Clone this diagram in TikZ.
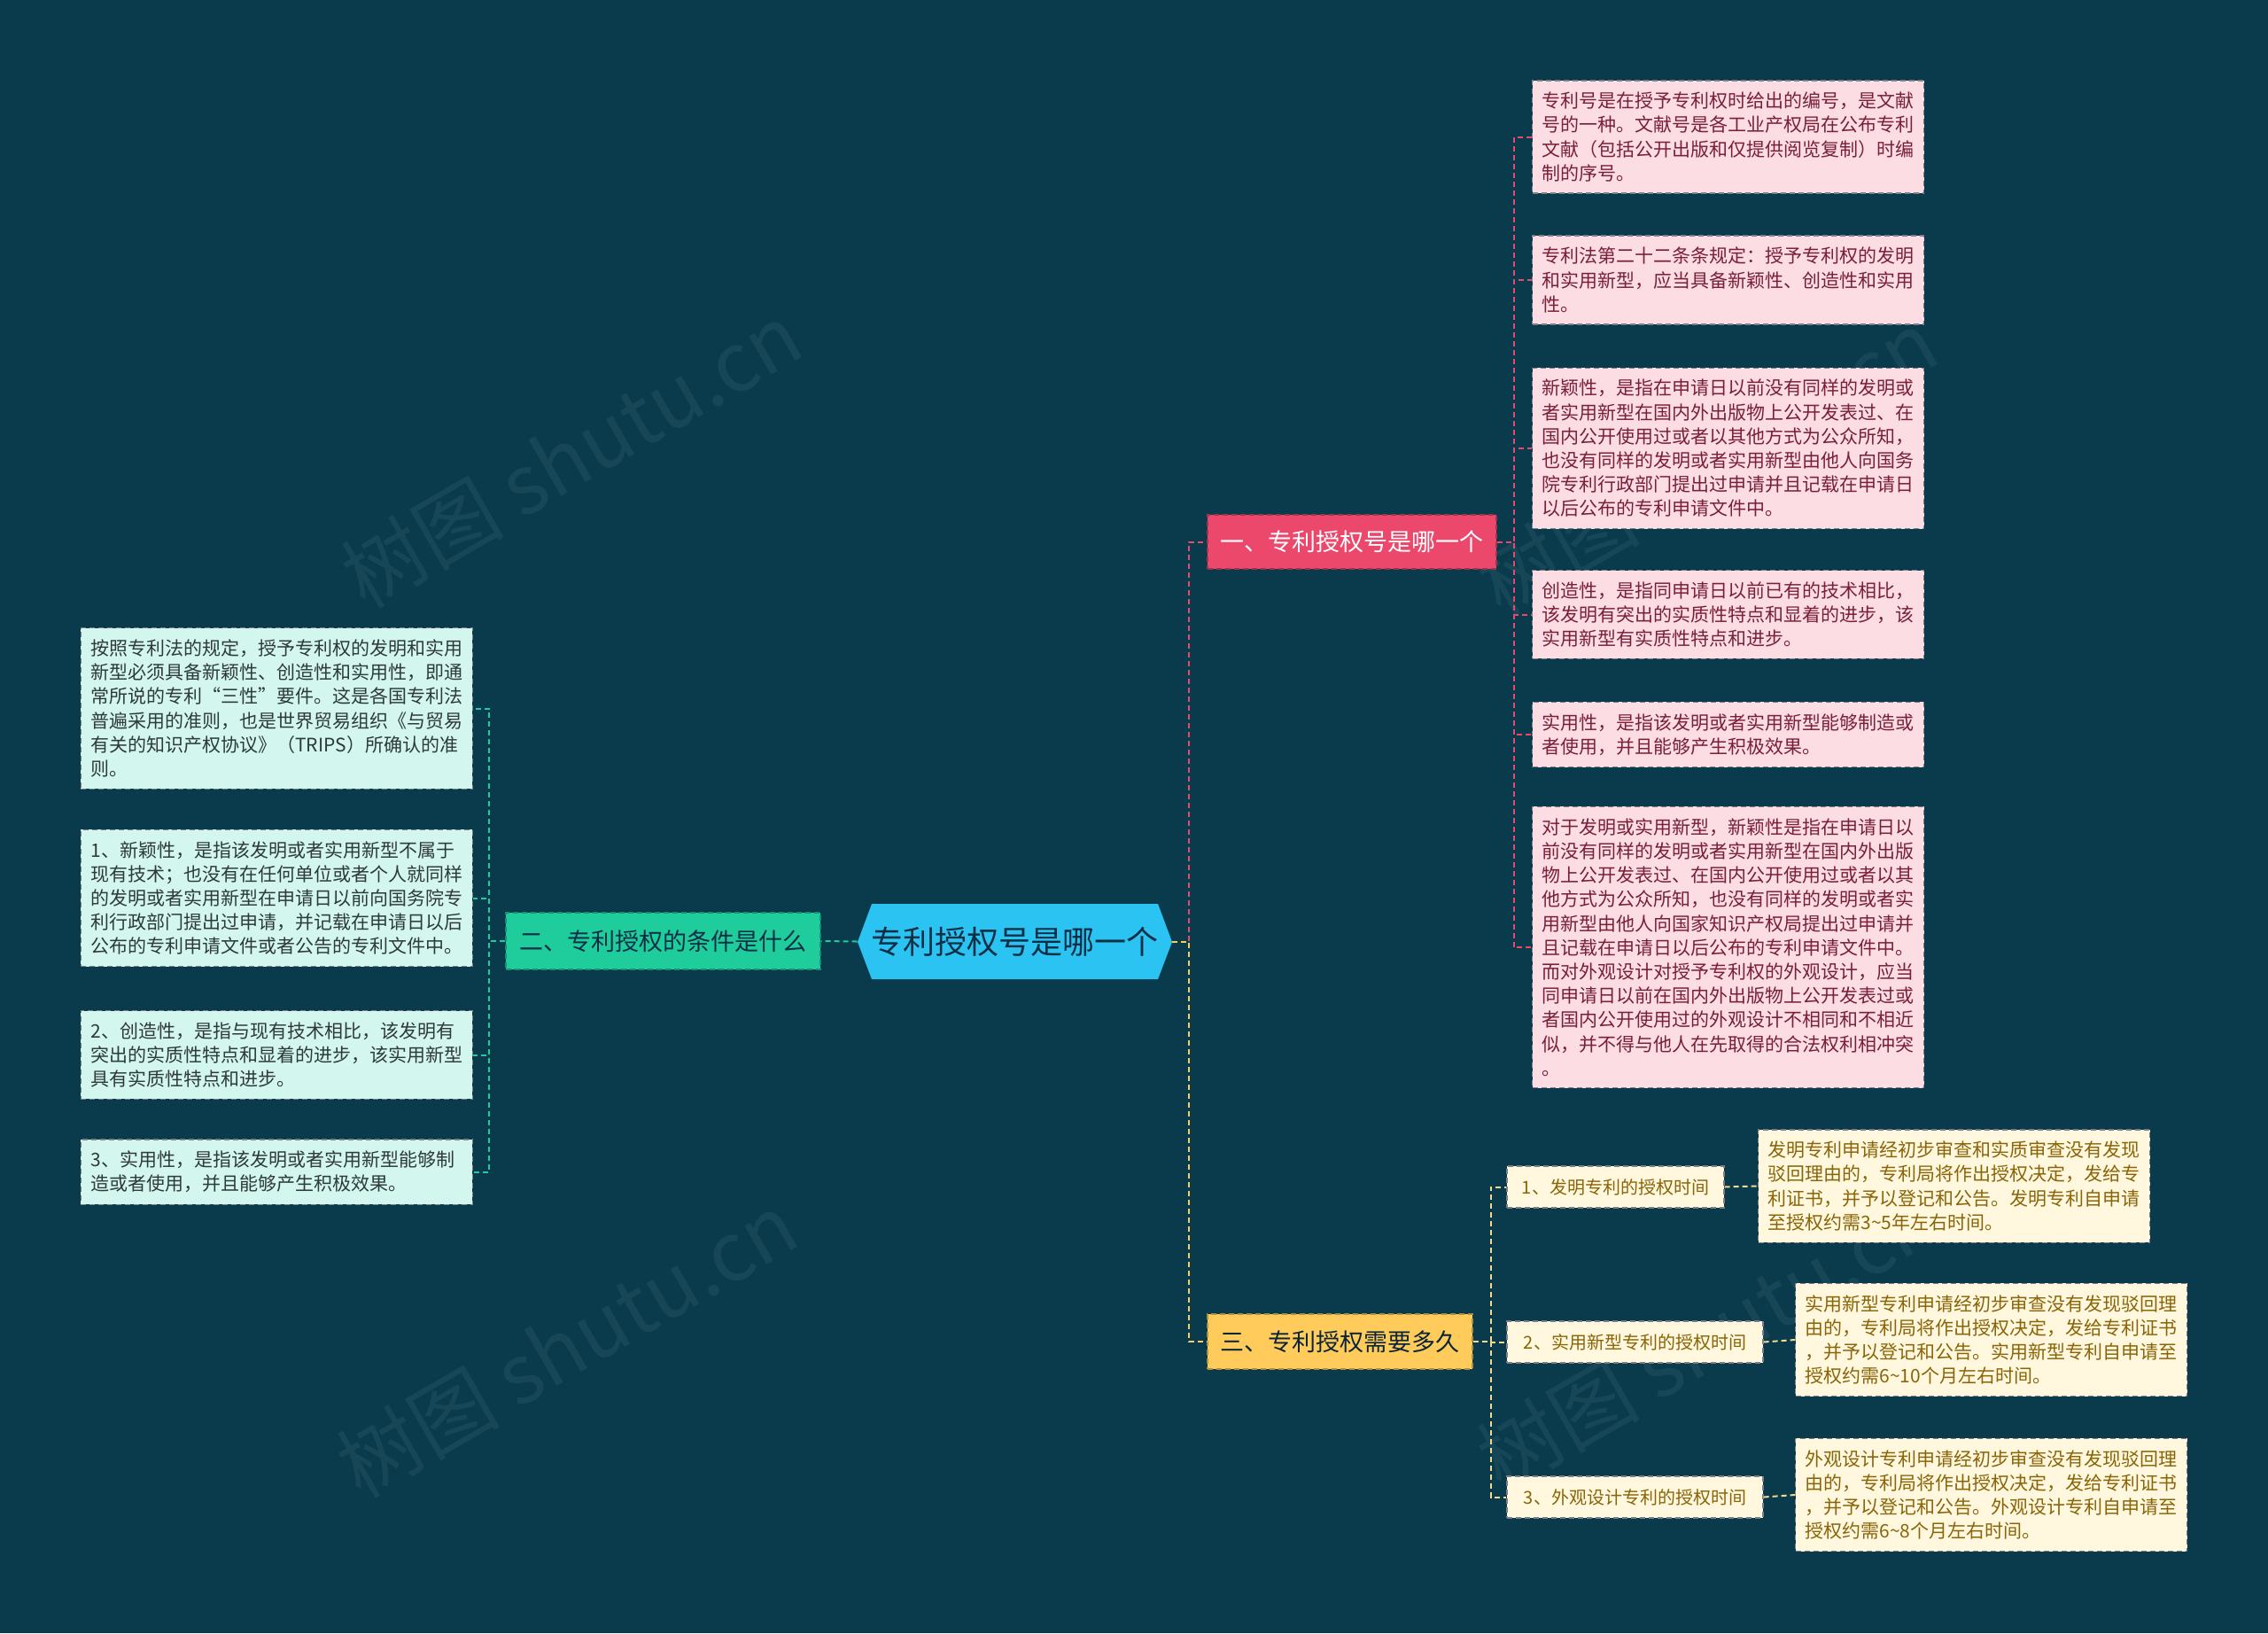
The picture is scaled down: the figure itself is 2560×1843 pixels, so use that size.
\documentclass[tikz,border=0pt]{standalone}
\usepackage{fontspec}
\setmainfont{Noto Sans CJK SC}
\newfontfamily\wmfont{Noto Sans CJK SC}
\definecolor{bg}{HTML}{093B4D}
\definecolor{cfill}{HTML}{2BC4F2}
\definecolor{ctext}{HTML}{0D2F45}
\definecolor{pinkb}{HTML}{EC486C}
\definecolor{pinkl}{HTML}{FCDDE3}
\definecolor{pinkt}{HTML}{7A1F3A}
\definecolor{tealb}{HTML}{1ECD9B}
\definecolor{teall}{HTML}{D3F6EE}
\definecolor{tealt}{HTML}{2E3A3A}
\definecolor{yelb}{HTML}{FFCB5B}
\definecolor{yell}{HTML}{FFF7DE}
\definecolor{yelt}{HTML}{8A6508}
\definecolor{yelline}{HTML}{F2D98C}
\definecolor{bord}{HTML}{7C7F88}
\begin{document}
\begin{tikzpicture}[x=0.5pt,y=-0.5pt,
  dsh/.style={dash pattern=on 3pt off 2pt},
  leafbase/.style={dsh,draw=bord,line width=0.6pt,text width=210pt,align=left,
    inner xsep=5.5pt,inner ysep=6.5pt,font=\fontsize{10.5pt}{13.6pt}\selectfont},
  leafpink/.style={leafbase,fill=pinkl,text=pinkt,anchor=west},
  leafteal/.style={leafbase,fill=teall,text=tealt,anchor=east},
  leafyel/.style={leafbase,fill=yell,text=yelt,anchor=west},
  branchbox/.style={dsh,line width=0.6pt,inner sep=0pt,font=\fontsize{13.5pt}{16pt}\selectfont},
  subbox/.style={dsh,draw=bord,line width=0.6pt,fill=yell,text=yelt,inner sep=0pt,
    minimum height=23.5pt,font=\fontsize{10pt}{12pt}\selectfont},
  conn/.style={dsh,line width=1pt},
  wm/.style={text=white,opacity=0.06,rotate=30,font=\wmfont\fontsize{46pt}{46pt}\selectfont}
]
\useasboundingbox (0,0) rectangle (2560,1843);
\fill[bg] (0,0) rectangle (2560,1843);

% watermarks (behind everything)
\node[wm] (w1) at (645,514) {树图 shutu.cn};
\node[wm] (w2) at (640,1518) {树图 shutu.cn};
\node[wm] (w3) at (1927,522) {树图 shutu.cn};
\node[wm] (w4) at (1927,1510) {树图 shutu.cn};

% centre hexagon
\fill[cfill] (968,1063) -- (984,1020) -- (1307,1020) -- (1323,1063) -- (1307,1105) -- (984,1105) -- cycle;
\node[inner sep=0pt,minimum width=177.5pt,minimum height=42.5pt,text=ctext,
  font=\fontsize{18pt}{20pt}\selectfont] (c) at (1145.5,1062.5) {专利授权号是哪一个};

% branches
\node[branchbox,fill=pinkb,draw=pinkb!70!black,text=white,minimum width=163pt,minimum height=30.5pt] (b1) at (1526,611.5) {一、专利授权号是哪一个};
\node[branchbox,fill=tealb,draw=tealb!70!black,text=ctext,minimum width=177.5pt,minimum height=32pt] (b2) at (748.5,1062) {二、专利授权的条件是什么};
\node[branchbox,fill=yelb,draw=yelb!70!black,text=ctext!80!black,minimum width=149.5pt,minimum height=31pt] (b3) at (1512.5,1514) {三、专利授权需要多久};

% branch 1 leaves
\node[leafpink] (p1) at (1729,154.5) {专利号是在授予专利权时给出的编号，是文献\\号的一种。文献号是各工业产权局在公布专利\\文献（包括公开出版和仅提供阅览复制）时编\\制的序号。};
\node[leafpink] (p2) at (1729,316) {专利法第二十二条条规定：授予专利权的发明\\和实用新型，应当具备新颖性、创造性和实用\\性。};
\node[leafpink] (p3) at (1729,506) {新颖性，是指在申请日以前没有同样的发明或\\者实用新型在国内外出版物上公开发表过、在\\国内公开使用过或者以其他方式为公众所知，\\也没有同样的发明或者实用新型由他人向国务\\院专利行政部门提出过申请并且记载在申请日\\以后公布的专利申请文件中。};
\node[leafpink] (p4) at (1729,693.5) {创造性，是指同申请日以前已有的技术相比，\\该发明有突出的实质性特点和显着的进步，该\\实用新型有实质性特点和进步。};
\node[leafpink] (p5) at (1729,829) {实用性，是指该发明或者实用新型能够制造或\\者使用，并且能够产生积极效果。};
\node[leafpink] (p6) at (1729,1069) {对于发明或实用新型，新颖性是指在申请日以\\前没有同样的发明或者实用新型在国内外出版\\物上公开发表过、在国内公开使用过或者以其\\他方式为公众所知，也没有同样的发明或者实\\用新型由他人向国家知识产权局提出过申请并\\且记载在申请日以后公布的专利申请文件中。\\而对外观设计对授予专利权的外观设计，应当\\同申请日以前在国内外出版物上公开发表过或\\者国内公开使用过的外观设计不相同和不相近\\似，并不得与他人在先取得的合法权利相冲突\\。};

% branch 2 leaves
\node[leafteal] (t1) at (534,799.5) {按照专利法的规定，授予专利权的发明和实用\\新型必须具备新颖性、创造性和实用性，即通\\常所说的专利“三性”要件。这是各国专利法\\普遍采用的准则，也是世界贸易组织《与贸易\\有关的知识产权协议》（TRIPS）所确认的准\\则。};
\node[leafteal] (t2) at (534,1013.5) {1、新颖性，是指该发明或者实用新型不属于\\现有技术；也没有在任何单位或者个人就同样\\的发明或者实用新型在申请日以前向国务院专\\利行政部门提出过申请，并记载在申请日以后\\公布的专利申请文件或者公告的专利文件中。};
\node[leafteal] (t3) at (534,1190.5) {2、创造性，是指与现有技术相比，该发明有\\突出的实质性特点和显着的进步，该实用新型\\具有实质性特点和进步。};
\node[leafteal] (t4) at (534,1322.5) {3、实用性，是指该发明或者实用新型能够制\\造或者使用，并且能够产生积极效果。};

% branch 3 sub nodes
\node[subbox,minimum width=122.5pt] (s1) at (1823.5,1339.5) {1、发明专利的授权时间};
\node[subbox,minimum width=144.5pt] (s2) at (1845.5,1514.5) {2、实用新型专利的授权时间};
\node[subbox,minimum width=144.5pt] (s3) at (1845.5,1689.5) {3、外观设计专利的授权时间};

\node[leafyel] (y1) at (1984,1338.5) {发明专利申请经初步审查和实质审查没有发现\\驳回理由的，专利局将作出授权决定，发给专\\利证书，并予以登记和公告。发明专利自申请\\至授权约需3{\char"7E}5年左右时间。};
\node[leafyel] (y2) at (2026,1512) {实用新型专利申请经初步审查没有发现驳回理\\由的，专利局将作出授权决定，发给专利证书\\，并予以登记和公告。实用新型专利自申请至\\授权约需6{\char"7E}10个月左右时间。};
\node[leafyel] (y3) at (2026,1687) {外观设计专利申请经初步审查没有发现驳回理\\由的，专利局将作出授权决定，发给专利证书\\，并予以登记和公告。外观设计专利自申请至\\授权约需6{\char"7E}8个月左右时间。};

% connectors
\draw[conn,pinkb] (c.east) -- ++(19,0) |- (b1.west);
\draw[conn,yelb] (c.east) -- ++(19,0) |- (b3.west);
\draw[conn,tealb] (c.west) -- (b2.east);
\foreach \n in {p1,p2,p3,p4,p5,p6}
  \draw[conn,pinkb] (b1.east) -- ++(19,0) |- (\n.west);
\foreach \n in {t1,t2,t3,t4}
  \draw[conn,tealb] (b2.west) -- ++(-18,0) |- (\n.east);
\foreach \n in {s1,s2,s3}
  \draw[conn,yelline] (b3.east) -- ++(20,0) |- (\n.west);
\draw[conn,yelline] (s1.east) -- (y1.west);
\draw[conn,yelline] (s2.east) -- (y2.west);
\draw[conn,yelline] (s3.east) -- (y3.west);
\end{tikzpicture}
\end{document}
